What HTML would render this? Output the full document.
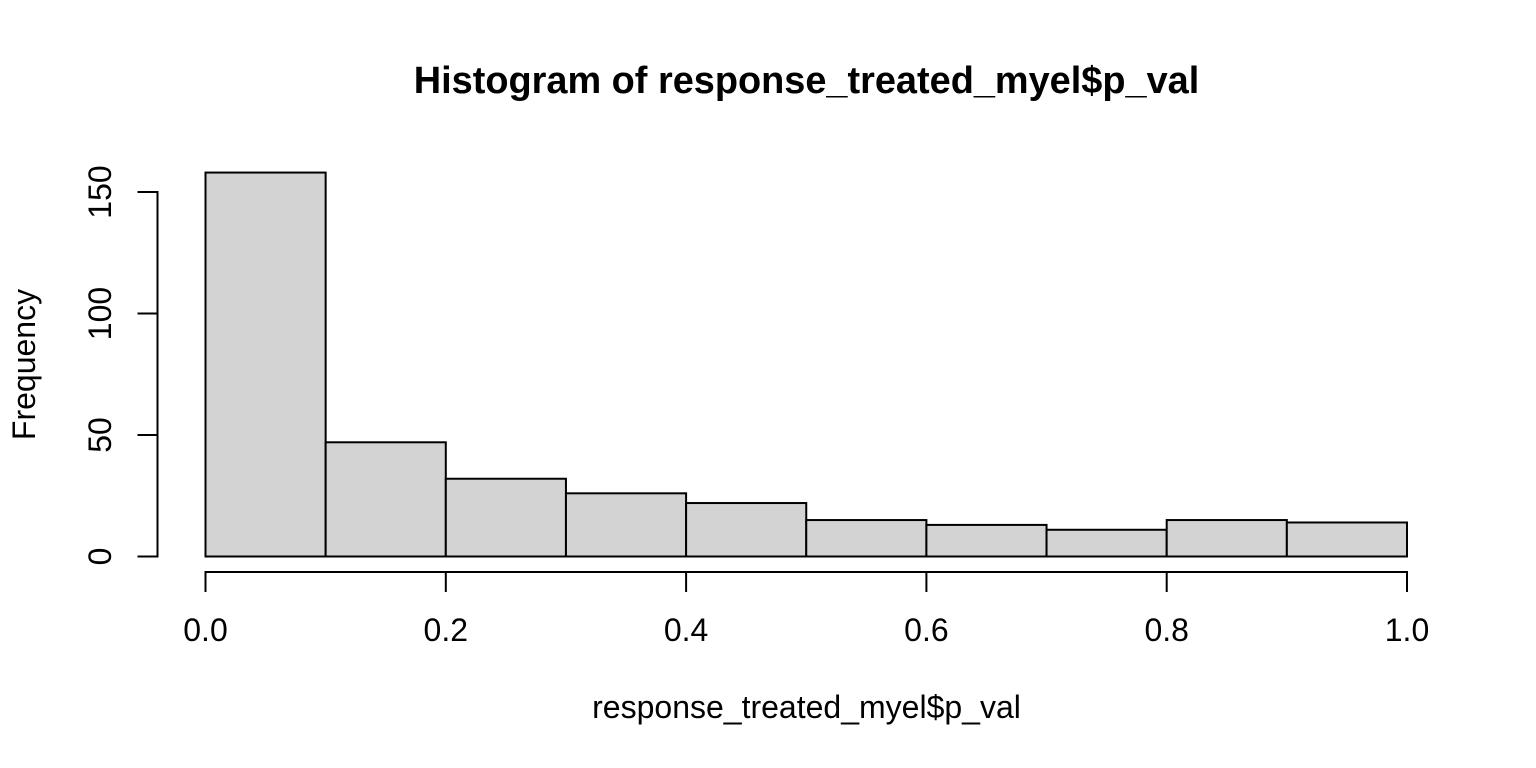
<!DOCTYPE html>
<html>
<head>
<meta charset="utf-8">
<title>Histogram of response_treated_myel$p_val</title>
<style>
html,body{margin:0;padding:0;background:#fff;width:1536px;height:768px;overflow:hidden}
svg{display:block}
text{font-family:"Liberation Sans",Arial,sans-serif;fill:#000}
</style>
</head>
<body>
<svg id="chart" width="1536" height="768" viewBox="0 0 1536 768" xmlns="http://www.w3.org/2000/svg">
<rect width="1536" height="768" fill="#fff"/>
<text x="806.5" y="93" text-anchor="middle" font-size="37.9" font-weight="bold">Histogram of response_treated_myel$p_val</text>
<text x="806.5" y="718" text-anchor="middle" font-size="32">response_treated_myel$p_val</text>
<text transform="translate(35 364.5) rotate(-90)" text-anchor="middle" font-size="32">Frequency</text>
<g id="bars"></g>
<g id="xaxis"></g>
<g id="yaxis"></g>
</svg>
<script>
const binEdges = [0, 0.1, 0.2, 0.3, 0.4, 0.5, 0.6, 0.7, 0.8, 0.9, 1.0];
const counts = [158, 47, 32, 26, 22, 15, 13, 11, 15, 14];
const xTicks = [0, 0.2, 0.4, 0.6, 0.8, 1.0];
const xTickLabels = ["0.0", "0.2", "0.4", "0.6", "0.8", "1.0"];
const yTicks = [0, 50, 100, 150];
const yTickLabels = ["0", "50", "100", "150"];

const NS = "http://www.w3.org/2000/svg";
function xScale(v) { return 205.5 + v * (1407 - 205.5); }
function yScale(v) { return 556.5 - v * (556.5 - 192) / 150; }
function make(tag, attrs, parent) {
  const el = document.createElementNS(NS, tag);
  for (const k in attrs) el.setAttribute(k, attrs[k]);
  parent.appendChild(el);
  return el;
}

const barsG = document.getElementById("bars");
counts.forEach(function (c, i) {
  const x0 = xScale(binEdges[i]);
  const x1 = xScale(binEdges[i + 1]);
  const y = yScale(c);
  const r = make("rect", { x: x0, y: y, width: x1 - x0, height: yScale(0) - y, fill: "#d3d3d3", stroke: "#000", "stroke-width": 2 }, barsG);
  
  
});

const xG = document.getElementById("xaxis");
const xLine = make("line", { x1: xScale(xTicks[0]), x2: xScale(xTicks[xTicks.length - 1]), y1: 572, y2: 572, stroke: "#000", "stroke-width": 2, "stroke-linecap": "square" }, xG);


xTicks.forEach(function (t, i) {
  const px = xScale(t);
  const tick = make("line", { x1: px, x2: px, y1: 572, y2: 592, stroke: "#000", "stroke-width": 2 }, xG);
  
  
  const lab = make("text", { x: px, y: 641, "text-anchor": "middle", "font-size": 32 }, xG);
  lab.textContent = xTickLabels[i];
  
  
});

const yG = document.getElementById("yaxis");
const yLine = make("line", { x1: 157.5, x2: 157.5, y1: yScale(yTicks[0]), y2: yScale(yTicks[yTicks.length - 1]), stroke: "#000", "stroke-width": 2, "stroke-linecap": "square" }, yG);


yTicks.forEach(function (t, i) {
  const py = yScale(t);
  const tick = make("line", { x1: 137.5, x2: 157.5, y1: py, y2: py, stroke: "#000", "stroke-width": 2 }, yG);
  
  
  const lab = make("text", { transform: "translate(111 " + py + ") rotate(-90)", "text-anchor": "middle", "font-size": 32 }, yG);
  lab.textContent = yTickLabels[i];
  
  
});
</script>
</body>
</html>
